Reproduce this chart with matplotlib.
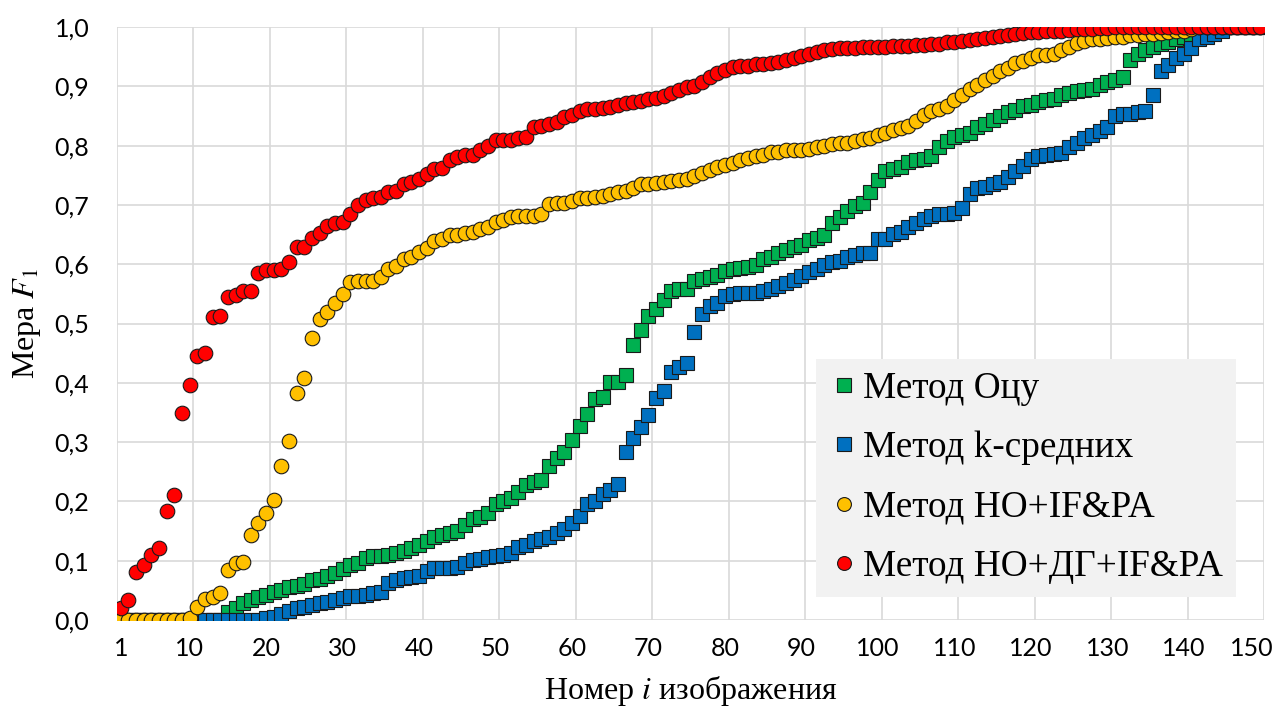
import matplotlib

matplotlib.use("Agg")
import matplotlib.pyplot as plt
import matplotlib.transforms as mtransforms
import numpy as np

plt.rcParams["mathtext.fontset"] = "stix"

# image number 1..150
image_no = np.arange(1, 151)

# F1 per image, sorted ascending
otsu = [0.0] * 14 + [
    0.013, 0.021, 0.028, 0.033, 0.038, 0.043, 0.047, 0.051, 0.055, 0.057,
    0.061, 0.068, 0.070, 0.075, 0.080, 0.086, 0.093, 0.096, 0.105, 0.108,
    0.108, 0.110, 0.113, 0.116, 0.121, 0.126, 0.133, 0.140, 0.143, 0.146,
    0.150, 0.160, 0.170, 0.174, 0.180, 0.196, 0.201, 0.206, 0.216, 0.228,
    0.232, 0.236, 0.259, 0.274, 0.283, 0.304, 0.327, 0.348, 0.373, 0.376,
    0.401, 0.401, 0.414, 0.464, 0.489, 0.512, 0.524, 0.540, 0.554, 0.559,
    0.559, 0.572, 0.575, 0.579, 0.582, 0.589, 0.592, 0.594, 0.596, 0.599,
    0.609, 0.612, 0.619, 0.624, 0.629, 0.632, 0.640, 0.644, 0.649, 0.669,
    0.680, 0.689, 0.699, 0.704, 0.722, 0.742, 0.758, 0.761, 0.764, 0.772,
    0.775, 0.778, 0.782, 0.798, 0.808, 0.815, 0.818, 0.822, 0.832, 0.836,
    0.844, 0.850, 0.856, 0.860, 0.867, 0.869, 0.874, 0.877, 0.879, 0.885,
    0.889, 0.892, 0.893, 0.895, 0.903, 0.907, 0.910, 0.915, 0.944, 0.955,
    0.962, 0.967, 0.971, 0.975, 0.980, 0.984, 0.989, 0.994,
] + [1.0] * 8

kmeans = [0.0] * 19 + [
    0.003, 0.005, 0.010, 0.015, 0.020, 0.022, 0.026, 0.028, 0.030, 0.033,
    0.037, 0.040, 0.041, 0.043, 0.045, 0.048, 0.063, 0.067, 0.071, 0.073,
    0.075, 0.083, 0.088, 0.088, 0.088, 0.090, 0.096, 0.101, 0.103, 0.106,
    0.108, 0.110, 0.113, 0.123, 0.126, 0.133, 0.136, 0.140, 0.146, 0.153,
    0.163, 0.176, 0.196, 0.200, 0.213, 0.220, 0.230, 0.283, 0.307, 0.326,
    0.346, 0.374, 0.386, 0.419, 0.426, 0.434, 0.486, 0.516, 0.529, 0.534,
    0.546, 0.549, 0.551, 0.552, 0.552, 0.554, 0.559, 0.564, 0.569, 0.574,
    0.580, 0.587, 0.592, 0.599, 0.604, 0.605, 0.612, 0.615, 0.619, 0.619,
    0.642, 0.643, 0.651, 0.655, 0.662, 0.669, 0.677, 0.682, 0.685, 0.685,
    0.687, 0.695, 0.719, 0.729, 0.730, 0.735, 0.739, 0.747, 0.758, 0.766,
    0.778, 0.782, 0.785, 0.786, 0.788, 0.798, 0.804, 0.812, 0.818, 0.825,
    0.832, 0.850, 0.853, 0.854, 0.857, 0.859, 0.886, 0.926, 0.936, 0.948,
    0.955, 0.965, 0.980, 0.983, 0.989, 0.994,
] + [1.0] * 5

ho_ifpa = [0.0] * 9 + [
    0.003, 0.022, 0.035, 0.039, 0.046, 0.085, 0.096, 0.098, 0.143, 0.164,
    0.180, 0.203, 0.259, 0.302, 0.383, 0.408, 0.476, 0.507, 0.520, 0.534,
    0.549, 0.570, 0.572, 0.572, 0.572, 0.578, 0.592, 0.597, 0.608, 0.613,
    0.620, 0.627, 0.639, 0.643, 0.650, 0.650, 0.652, 0.655, 0.659, 0.662,
    0.672, 0.675, 0.679, 0.682, 0.682, 0.682, 0.685, 0.702, 0.704, 0.704,
    0.707, 0.711, 0.712, 0.713, 0.715, 0.719, 0.722, 0.724, 0.729, 0.735,
    0.735, 0.737, 0.739, 0.740, 0.742, 0.743, 0.749, 0.754, 0.759, 0.764,
    0.767, 0.771, 0.775, 0.779, 0.782, 0.785, 0.789, 0.790, 0.792, 0.792,
    0.793, 0.795, 0.797, 0.799, 0.802, 0.804, 0.805, 0.807, 0.811, 0.813,
    0.818, 0.822, 0.826, 0.830, 0.833, 0.841, 0.851, 0.858, 0.861, 0.866,
    0.877, 0.885, 0.896, 0.903, 0.910, 0.917, 0.925, 0.931, 0.939, 0.943,
    0.948, 0.952, 0.953, 0.954, 0.962, 0.967, 0.973, 0.976, 0.979, 0.980,
    0.981, 0.983, 0.984, 0.986, 0.987, 0.988, 0.989, 0.990, 0.992, 0.993,
    0.994, 0.996,
] + [1.0] * 9

ho_dg_ifpa = [
    0.020, 0.033, 0.081, 0.093, 0.109, 0.122, 0.184, 0.211, 0.349, 0.396,
    0.445, 0.450, 0.511, 0.512, 0.545, 0.548, 0.554, 0.554, 0.585, 0.591,
    0.591, 0.592, 0.603, 0.629, 0.629, 0.645, 0.653, 0.664, 0.669, 0.671,
    0.684, 0.700, 0.708, 0.712, 0.714, 0.721, 0.724, 0.735, 0.738, 0.744,
    0.752, 0.760, 0.762, 0.775, 0.780, 0.785, 0.785, 0.793, 0.800, 0.809,
    0.810, 0.810, 0.813, 0.815, 0.832, 0.833, 0.837, 0.840, 0.848, 0.852,
    0.858, 0.861, 0.861, 0.864, 0.865, 0.868, 0.872, 0.873, 0.876, 0.878,
    0.880, 0.884, 0.888, 0.894, 0.898, 0.901, 0.908, 0.915, 0.922, 0.928,
    0.933, 0.935, 0.935, 0.937, 0.937, 0.939, 0.941, 0.945, 0.948, 0.951,
    0.955, 0.958, 0.961, 0.963, 0.965, 0.965, 0.965, 0.966, 0.966, 0.966,
    0.967, 0.968, 0.968, 0.968, 0.969, 0.970, 0.971, 0.972, 0.974, 0.975,
    0.976, 0.978, 0.980, 0.981, 0.983, 0.985, 0.987, 0.988, 0.990, 0.991,
    0.992, 0.993, 0.994, 0.994, 0.995, 0.996, 0.997, 0.997, 0.998, 0.998,
] + [1.0] * 20

x_tickvals = [1] + list(range(10, 151, 10))
x_ticklabels = [str(v) for v in x_tickvals]
y_ticks = np.arange(0, 11) / 10
y_ticklabels = [f"{v:.1f}".replace(".", ",") for v in y_ticks]

series = [
    ("Метод Оцу", otsu, "s", "#00B050"),
    ("Метод k-средних", kmeans, "s", "#0070C0"),
    ("Метод НО+IF&PA", ho_ifpa, "o", "#FFC000"),
    ("Метод НО+ДГ+IF&PA", ho_dg_ifpa, "o", "#FF0000"),
]

fig = plt.figure(figsize=(12.76, 7.09), dpi=100)
ax = fig.add_axes([0.0917, 0.1255, 0.8989, 0.8364])

for label, vals, mk, col in series:
    ax.plot(image_no, vals, ls="none", marker=mk, ms=10.5 if mk == "o" else 10,
            mfc=col, mec="#1a1a1a", mew=0.8, label=label)

ax.set_xlim(0.5, 150.5)
ax.set_ylim(0, 1.0)
# labels sit on category centres, gridlines on category boundaries
ax.set_xticks(x_tickvals)
ax.set_xticklabels(x_ticklabels, family="Lato", fontsize=18)
ax.set_xticks(np.arange(0, 151, 10) + 0.5, minor=True)
ax.set_yticks(y_ticks)
ax.set_yticklabels(y_ticklabels, family="Lato", fontsize=18)
ax.tick_params(axis="x", which="both", length=0, pad=12)
ax.tick_params(axis="y", length=0, pad=20)
ax.grid(True, axis="x", which="minor", color="#D9D9D9", lw=1.2)
ax.grid(True, axis="y", which="major", color="#D9D9D9", lw=1.2)
ax.grid(False, axis="x", which="major")
ax.set_axisbelow(True)
for s in ax.spines.values():
    s.set_visible(False)

# last label pulled inside the figure edge
last = ax.get_xticklabels()[-1]
last.set_transform(last.get_transform()
                   + mtransforms.ScaledTranslation(-0.08, 0, fig.dpi_scale_trans))

ax.set_xlabel("Номер $i$ изображения", family="Liberation Serif",
              fontsize=23, labelpad=10)
ax.set_ylabel("Мера $F_1$", family="Liberation Serif", fontsize=23,
              labelpad=8)

leg = ax.legend(loc="lower right", bbox_to_anchor=(0.9756, 0.0388),
                prop={"family": "Liberation Serif", "size": 26.8},
                facecolor="#F2F2F2", edgecolor="none", framealpha=1,
                fancybox=False, markerscale=0.95, handlelength=0.8,
                handletextpad=0.1, labelspacing=0.66, borderpad=0.36,
                borderaxespad=0)

fig.savefig("out.png", dpi=100)
